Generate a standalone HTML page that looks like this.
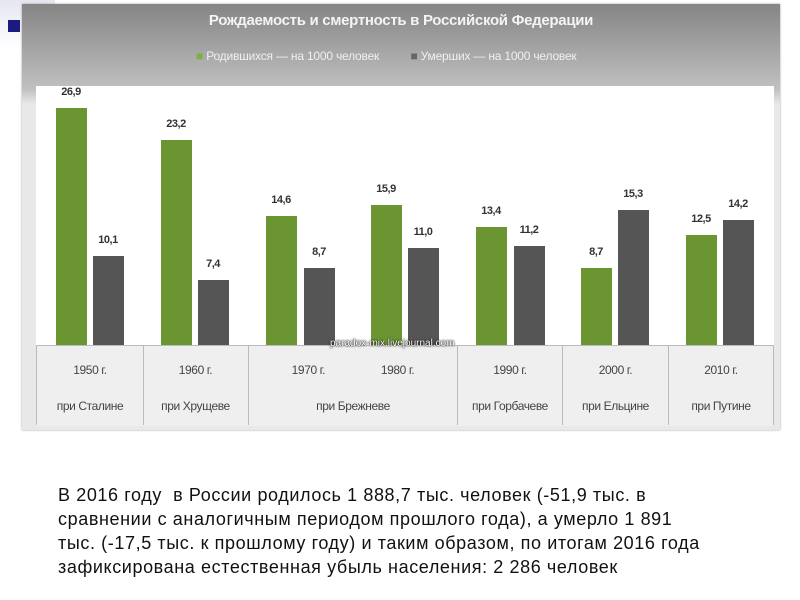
<!DOCTYPE html>
<html><head><meta charset="utf-8"><style>
body{margin:0;width:800px;height:600px;background:#fff;position:relative;overflow:hidden;font-family:"Liberation Sans",sans-serif}
.a{position:absolute}
.g{background:#6a9530}.d{background:#555}
.v{position:absolute;font-size:11px;font-weight:bold;color:#333;width:40px;text-align:center;letter-spacing:-0.5px}
.c{position:absolute;top:345px;height:80px;border-right:1px solid #bbb;font-size:12px;color:#444;text-align:center;letter-spacing:-0.4px}
</style></head><body>
<div class="a" style="left:0;top:0;width:55px;height:48px;background:linear-gradient(#e6e6f2,#fff)"></div>
<div class="a" style="left:8px;top:20px;width:12px;height:12px;background:#1a1a80"></div>
<div class="a" style="left:22px;top:4px;width:758px;height:426px;background:linear-gradient(#858585,#c0c0c0 85px,#e8e8e8 100px);box-shadow:0 0 2px #999"></div>
<div class="a" style="left:22px;top:12px;width:758px;text-align:center;color:#f4f4f4;font-weight:bold;font-size:15px;letter-spacing:-0.3px">Рождаемость и смертность в Российской Федерации</div>
<div class="a" style="left:196px;top:49px;font-size:12px;color:#f0f0f0;letter-spacing:-0.2px"><span style="color:#7db23a">■</span> Родившихся — на 1000 человек &nbsp;&nbsp;&nbsp;&nbsp;&nbsp;&nbsp;&nbsp;&nbsp;&nbsp;<span style="color:#666">■</span> Умерших — на 1000 человек</div>
<div class="a" style="left:36px;top:86px;width:738px;height:259px;background:#fff"></div>
<div class="a" style="left:36px;top:345px;width:738px;height:80px;background:#efefef;border-top:1px solid #bbb"></div>
<div id="bars"></div>
<div class="c" style="left:36px;width:106px;border-left:1px solid #bbb"><div style="margin-top:18px">1950 г.</div><div style="margin-top:22px">при Сталине</div></div>
<div class="c" style="left:143px;width:105px"><div style="margin-top:18px">1960 г.</div><div style="margin-top:22px">при Хрущеве</div></div>
<div class="c" style="left:249px;width:208px"><div style="margin-top:18px">1970 г. &nbsp;&nbsp;&nbsp;&nbsp;&nbsp;&nbsp;&nbsp;&nbsp;&nbsp;&nbsp;&nbsp;&nbsp;&nbsp;&nbsp;&nbsp;&nbsp;&nbsp;&nbsp;1980 г.</div><div style="margin-top:22px">при Брежневе</div></div>
<div class="c" style="left:458px;width:104px"><div style="margin-top:18px">1990 г.</div><div style="margin-top:22px">при Горбачеве</div></div>
<div class="c" style="left:563px;width:105px"><div style="margin-top:18px">2000 г.</div><div style="margin-top:22px">при Ельцине</div></div>
<div class="c" style="left:669px;width:104px"><div style="margin-top:18px">2010 г.</div><div style="margin-top:22px">при Путине</div></div>
<div class="a" style="left:330px;top:338px;font-size:10px;color:#fff;text-shadow:0 0 2px #000,0 0 1px #000">paradox-mix.livejournal.com</div>
<div class="a" style="left:58px;top:483px;width:740px;white-space:nowrap;font-size:18px;letter-spacing:0.6px;line-height:24px;color:#111">В 2016 году &nbsp;в России родилось 1 888,7 тыс. человек (-51,9 тыс. в<br>сравнении с аналогичным периодом прошлого года), а умерло 1 891<br>тыс. (-17,5 тыс. к прошлому году) и таким образом, по итогам 2016 года<br>зафиксирована естественная убыль населения: 2 286 человек</div>
<script>
var d=[[56,26.9,"26,9",93,10.1,"10,1"],[161,23.2,"23,2",198,7.4,"7,4"],[266,14.6,"14,6",304,8.7,"8,7"],[371,15.9,"15,9",408,11.0,"11,0"],[476,13.4,"13,4",514,11.2,"11,2"],[581,8.7,"8,7",618,15.3,"15,3"],[686,12.5,"12,5",723,14.2,"14,2"]];
var h="";d.forEach(function(r){[[r[0],r[1],r[2],"g"],[r[3],r[4],r[5],"d"]].forEach(function(b){var ht=b[1]*8.82,t=345-ht;h+='<div class="a '+b[3]+'" style="left:'+b[0]+'px;top:'+t+'px;width:31px;height:'+ht+'px"></div><div class="v" style="left:'+(b[0]-5)+'px;top:'+(t-22)+'px">'+b[2]+'</div>';});});
document.getElementById("bars").innerHTML=h;
</script>
</body></html>
